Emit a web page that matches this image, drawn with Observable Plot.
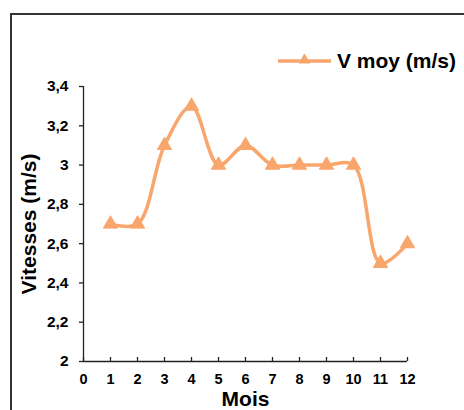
<!DOCTYPE html>
<html>
<head>
<meta charset="utf-8">
<script src="https://cdn.jsdelivr.net/npm/d3@7"></script>
<script src="https://cdn.jsdelivr.net/npm/@observablehq/plot@0.6"></script>
<style>
  html, body { margin: 0; padding: 0; background: #fff; overflow: hidden; }
  #wrap { position: relative; width: 464px; height: 410px; font-family: "Liberation Sans", Arial, sans-serif; }
  #frame { position: absolute; left: 10px; top: 13px; width: 480px; height: 430px; border: 2px solid #333; box-sizing: border-box; }
  #chart { position: absolute; left: 0; top: 0; }
  #legend { position: absolute; left: 278px; top: 48px; display: flex; align-items: center; font-weight: bold; font-size: 21px; line-height: 26px; color: #000; white-space: nowrap; }
  #legend svg { margin-right: 5px; }
</style>
</head>
<body>
<div id="wrap">
  <div id="frame"></div>
  <div id="chart"></div>
  <div id="legend"></div>
</div>
<script>
// Monthly mean wind speed (m/s)
const months = [1, 2, 3, 4, 5, 6, 7, 8, 9, 10, 11, 12];
const speeds = [2.7, 2.7, 3.1, 3.3, 3.0, 3.1, 3.0, 3.0, 3.0, 3.0, 2.5, 2.6];
const xTicks = [0, 1, 2, 3, 4, 5, 6, 7, 8, 9, 10, 11, 12];
const yTicks = [2, 2.2, 2.4, 2.6, 2.8, 3, 3.2, 3.4];
const seriesName = "V moy (m/s)";
const xTitle = "Mois";
const yTitle = "Vitesses (m/s)";

const color = "#F9A66C";
const data = months.map((m, i) => ({mois: m, v: speeds[i]}));
const xDomain = [xTicks[0], xTicks[xTicks.length - 1]];
const yDomain = [yTicks[0], yTicks[yTicks.length - 1]];
const comma = d => String(d).replace(".", ",");

const chart = Plot.plot({
  width: 464,
  height: 410,
  marginLeft: 83,
  marginRight: 57,
  marginTop: 86,
  marginBottom: 49,
  style: {fontFamily: "'Liberation Sans', Arial, sans-serif", fontWeight: "bold", color: "#000", background: "transparent"},
  x: {domain: xDomain},
  y: {domain: yDomain},
  marks: [
    // axis lines
    Plot.ruleX([xDomain[0]], {y1: yDomain[0], y2: yDomain[1], stroke: "#222", strokeWidth: 1.3}),
    Plot.ruleY([yDomain[0]], {x1: xDomain[0], x2: xDomain[1], stroke: "#222", strokeWidth: 1.3}),
    // inward x ticks
    Plot.ruleX(xTicks, {y1: yDomain[0], y2: yDomain[0], insetTop: -4, stroke: "#222", strokeWidth: 1.3}),
    Plot.axisY({ticks: yTicks, tickSize: 4, tickPadding: 11, tickFormat: comma, fontSize: 15.5, stroke: "#222", strokeWidth: 1.3, label: null}),
    Plot.axisX({ticks: xTicks, tickSize: 0, tickPadding: 12, tickFormat: d => String(d), fontSize: 14.5, label: null}),
    Plot.text([xTitle], {frameAnchor: "bottom", dy: 38, fontSize: 21, fontWeight: "bold", lineAnchor: "middle"}),
    Plot.text([yTitle], {frameAnchor: "left", dx: -54, rotate: -90, textAnchor: "middle", lineAnchor: "middle", fontSize: 21, fontWeight: "bold"}),
    // series
    Plot.line(data, {x: "mois", y: "v", stroke: color, strokeWidth: 3.5, curve: "catmull-rom"}),
    Plot.dot(data, {x: "mois", y: "v", symbol: "triangle", r: 5.3, fill: color, stroke: color, strokeWidth: 1})
  ]
});
document.getElementById("chart").appendChild(chart);

// legend
const legend = document.getElementById("legend");
const sw = d3.create("svg").attr("width", 54).attr("height", 14);
sw.append("line").attr("x1", 0).attr("x2", 53).attr("y1", 7).attr("y2", 7).attr("stroke", color).attr("stroke-width", 3.5);
sw.append("path").attr("d", d3.symbol(d3.symbolTriangle, 60)()).attr("transform", "translate(26.5,6)").attr("fill", color);
legend.appendChild(sw.node());
const lbl = document.createElement("span");
lbl.textContent = seriesName;
legend.appendChild(lbl);
</script>
</body>
</html>
